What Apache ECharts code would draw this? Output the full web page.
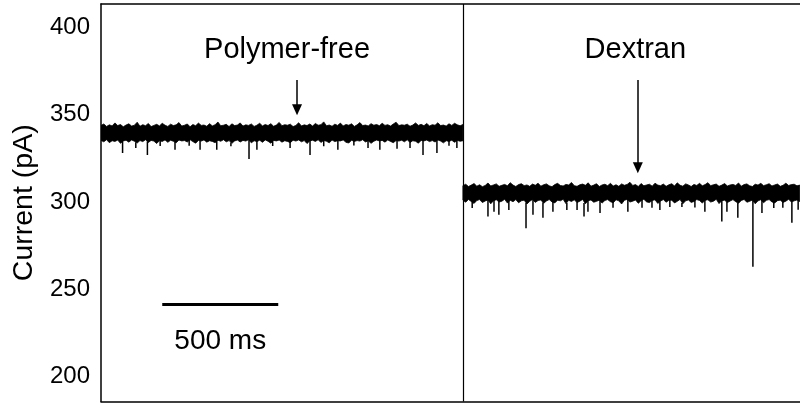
<!DOCTYPE html>
<html>
<head>
<meta charset="utf-8">
<script src="https://cdn.jsdelivr.net/npm/echarts@6/dist/echarts.min.js"></script>
<style>
  html, body { margin: 0; padding: 0; background: #fff; }
  #chart { width: 800px; height: 404px; }
</style>
</head>
<body>
<div id="chart"></div>
<script>
/* Current trace: envelope of the noise band every 12 ms,
   plus the downward blockade spikes as [time ms, current pA] */
let STEP = 12;
let SWITCH_T = 1560;
let X_MAX = 3013;

let yTicks = [200, 250, 300, 350, 400];

let leftUpper = [
  343.8, 344.6, 343.2, 344.1, 343.5, 345.2, 343.7, 344.3, 343.0, 344.0,
  344.7, 343.4, 343.9, 345.6, 343.3, 344.2, 343.6, 344.9, 343.1, 343.8,
  344.4, 343.5, 345.0, 343.9, 343.2, 344.5, 343.7, 344.1, 345.4, 343.4,
  343.9, 344.6, 343.0, 344.3, 343.6, 345.1, 343.8, 344.0, 343.3, 344.8,
  343.5, 344.2, 345.7, 343.6, 343.9, 344.4, 343.1, 344.7, 343.7, 344.0,
  345.2, 343.4, 344.1, 343.8, 344.6, 343.2, 343.9, 345.0, 343.5, 344.3,
  343.7, 344.8, 343.3, 344.0, 345.5, 343.6, 344.2, 343.9, 344.5, 343.1,
  343.8, 345.3, 343.5, 344.1, 343.7, 344.6, 343.4, 344.9, 343.9, 344.2,
  345.8, 343.6, 344.0, 343.3, 344.5, 343.8, 345.1, 343.5, 344.3, 343.9,
  344.7, 343.2, 344.1, 345.4, 343.7, 344.0, 343.5, 344.8, 343.9, 344.3,
  343.6, 345.0, 343.8, 344.2, 343.4, 344.6, 345.6, 343.7, 344.1, 343.9,
  344.5, 343.3, 344.0, 345.2, 343.8, 344.4, 343.6, 344.9, 343.5, 344.2,
  343.9, 345.3, 343.7, 344.0, 343.4, 344.7, 343.8, 345.0, 344.1, 343.6,
  344.3
];
let leftLower = [
  335.2, 334.4, 335.6, 333.9, 335.0, 334.6, 335.4, 333.5, 334.9, 335.3,
  334.2, 335.5, 334.7, 333.7, 335.1, 334.5, 335.6, 334.0, 335.2, 334.8,
  333.4, 335.0, 334.6, 335.5, 334.1, 335.3, 334.7, 333.8, 335.4, 334.9,
  335.1, 334.3, 335.6, 334.5, 333.6, 335.2, 334.8, 335.5, 334.2, 335.0,
  334.6, 333.9, 335.3, 334.7, 335.6, 334.4, 335.1, 333.5, 334.9, 335.4,
  334.3, 335.2, 334.8, 335.6, 333.8, 335.0, 334.5, 335.3, 334.1, 335.5,
  334.7, 333.6, 335.2, 334.9, 335.4, 334.2, 335.0, 334.6, 333.9, 335.3,
  334.8, 335.5, 334.4, 335.1, 333.4, 334.9, 335.3, 334.6, 335.6, 334.0,
  335.2, 334.7, 333.8, 335.4, 334.5, 335.0, 334.9, 335.5, 334.1, 333.7,
  335.3, 334.6, 335.1, 334.8, 335.6, 334.3, 335.0, 333.5, 334.7, 335.4,
  334.9, 335.2, 334.2, 335.5, 334.6, 333.9, 335.1, 334.8, 335.3, 334.4,
  335.6, 334.0, 335.0, 334.7, 333.6, 335.2, 334.9, 335.4, 334.5, 335.1,
  334.3, 335.5, 334.8, 333.8, 335.0, 334.6, 335.3, 334.1, 335.2, 334.7,
  335.0
];
let rightUpper = [
  309.3, 310.1, 308.8, 309.6, 310.5, 309.0, 309.8, 308.7, 309.4, 310.8,
  309.1, 309.7, 310.3, 308.9, 309.5, 310.0, 309.2, 311.0, 309.6, 308.8,
  309.9, 310.4, 309.3, 309.7, 308.9, 310.2, 309.5, 310.7, 309.0, 309.8,
  310.3, 309.2, 308.7, 309.9, 310.6, 309.4, 309.1, 310.0, 309.7, 311.1,
  309.3, 308.9, 309.8, 310.2, 309.5, 310.9, 309.0, 309.6, 310.4, 308.8,
  309.7, 310.1, 309.3, 310.6, 309.1, 309.8, 308.9, 310.3, 309.5, 310.0,
  311.2, 309.4, 309.9, 308.8, 310.5, 309.2, 309.7, 310.1, 309.0, 310.7,
  309.6, 309.3, 310.2, 308.9, 309.8, 310.4, 309.1, 310.9, 309.5, 309.0,
  310.3, 309.7, 308.8, 310.0, 309.4, 310.6, 309.2, 309.9, 311.0, 309.3,
  309.8, 310.2, 308.9, 309.6, 310.5, 309.1, 309.7, 310.0, 309.4, 310.8,
  309.0, 309.9, 310.3, 309.2, 308.8, 310.1, 309.6, 310.6, 309.3, 309.8,
  310.4, 309.1, 309.7, 310.2, 308.9, 309.5, 310.7, 309.4, 309.9, 310.1,
  309.2, 309.6
];
let rightLower = [
  301.0, 299.8, 301.4, 300.2, 299.1, 300.8, 301.3, 299.6, 300.5, 301.1,
  298.9, 300.7, 301.2, 299.9, 300.4, 301.5, 299.3, 300.9, 300.1, 301.3,
  299.5, 300.6, 301.0, 298.8, 300.3, 301.4, 299.7, 300.8, 301.1, 299.2,
  300.5, 301.3, 300.0, 299.4, 301.0, 300.6, 301.5, 299.0, 300.9, 300.2,
  301.2, 299.6, 300.4, 301.4, 298.9, 300.7, 301.1, 299.8, 300.3, 301.0,
  299.3, 300.8, 301.3, 300.1, 299.5, 301.2, 300.6, 298.8, 300.9, 301.4,
  299.9, 300.4, 301.1, 299.2, 300.7, 301.5, 300.0, 299.6, 300.8, 301.2,
  299.1, 300.5, 301.3, 299.8, 300.9, 301.0, 299.4, 300.3, 301.4, 298.9,
  300.6, 301.1, 299.7, 300.2, 301.3, 300.8, 299.3, 300.9, 301.2, 299.9,
  300.4, 301.5, 299.0, 300.7, 301.0, 299.6, 300.5, 301.3, 300.1, 299.2,
  300.8, 301.4, 299.8, 300.3, 301.1, 298.9, 300.6, 301.2, 299.5, 300.9,
  301.3, 300.0, 299.4, 300.7, 301.0, 299.7, 300.4, 301.5, 299.9, 300.6,
  301.1, 300.2
];

let leftSpikes = [
  [93, 328.0], [150, 330.9], [200, 326.9], [255, 332.0], [319, 329.8],
  [380, 332.2], [427, 329.8], [499, 329.8], [560, 331.8], [638, 324.6],
  [672, 329.8], [740, 332.0], [815, 330.9], [901, 326.9], [960, 331.9],
  [1021, 329.8], [1090, 332.3], [1151, 330.9], [1202, 329.8], [1276, 330.4],
  [1332, 330.9], [1388, 326.9], [1448, 328.0], [1500, 332.1], [1534, 330.9]
];
let rightSpikes = [
  [1600, 296.5], [1668, 291.6], [1694, 294.3], [1715, 292.6], [1758, 295.4],
  [1832, 284.9], [1862, 292.6], [1905, 290.9], [1948, 294.3], [2008, 295.4],
  [2052, 295.4], [2082, 291.6], [2099, 294.3], [2151, 293.7], [2207, 296.6],
  [2271, 294.3], [2332, 296.6], [2375, 296.6], [2409, 295.4], [2452, 297.1],
  [2504, 297.1], [2560, 296.8], [2603, 294.3], [2676, 288.7], [2698, 294.3],
  [2745, 290.9], [2810, 262.9], [2849, 293.7], [2900, 296.5], [2939, 296.6],
  [2978, 288.0], [3005, 295.5]
];

/* annotation anchors, in data units */
let polymerArrow = { t: 845, from: 369.8, to: 352.7, text: "Polymer-free" };
let dextranArrow = { t: 2314, from: 369.8, to: 319.5, text: "Dextran" };
let scaleBar = { t0: 264, t1: 764, y: 241.6, text: "500 ms" };

let FONT = "'Liberation Sans', Arial, Helvetica, sans-serif";

let segments = [
  { t0: 0, upper: leftUpper, lower: leftLower },
  { t0: SWITCH_T, upper: rightUpper, lower: rightLower },
];

function baseAt(t) {
  let s = t < SWITCH_T ? segments[0] : segments[1];
  let i = Math.min(s.lower.length - 1, Math.max(0, Math.round((t - s.t0) / STEP)));
  return s.lower[i];
}

function arrowLine(a, pad) {
  return [
    {
      coord: [a.t, a.from],
      symbol: "none",
      label: {
        show: true,
        position: "start",
        formatter: a.text,
        distance: 15,
        padding: pad,
        color: "#000",
        fontSize: 29,
        fontFamily: FONT,
      },
    },
    { coord: [a.t, a.to], symbol: "triangle", symbolSize: [10, 11] },
  ];
}

let axisBase = {
  type: "value", min: 0, max: X_MAX,
  axisLine: { show: true, lineStyle: { color: "#000", width: 1.5 } },
  axisTick: { show: false }, axisLabel: { show: false }, splitLine: { show: false },
};

let chart = echarts.init(document.getElementById("chart"), null, { renderer: "canvas" });

chart.setOption({
  animation: false,
  backgroundColor: "#fff",
  grid: { left: 101, right: 0, top: 4, bottom: 2.5 },
  xAxis: [
    Object.assign({ position: "bottom" }, axisBase),
    Object.assign({ position: "top" }, axisBase),
  ],
  yAxis: {
    type: "value", min: 185.7, max: 413.3,
    name: "Current (pA)",
    nameLocation: "middle",
    nameGap: 44,
    nameTextStyle: { color: "#000", fontSize: 28.5, fontFamily: FONT },
    axisLine: { show: true, lineStyle: { color: "#000", width: 1.5 } },
    axisTick: { show: false }, splitLine: { show: false },
    axisLabel: {
      customValues: yTicks,
      color: "#000", fontSize: 24, fontFamily: FONT, margin: 11,
    },
  },
  series: [
    {
      name: "band",
      type: "custom",
      silent: true,
      clip: true,
      data: segments.map(function (s, k) {
        return [s.t0, s.t0 + (s.upper.length - 1) * STEP, k];
      }),
      encode: { x: [0, 1] },
      renderItem: function (params, api) {
        let s = segments[api.value(2)];
        let pts = [];
        s.upper.forEach(function (v, i) { pts.push(api.coord([s.t0 + i * STEP, v])); });
        for (let i = s.lower.length - 1; i >= 0; i--) {
          pts.push(api.coord([s.t0 + i * STEP, s.lower[i]]));
        }
        return {
          type: "polygon",
          shape: { points: pts },
          style: { fill: "#000", stroke: "#000", lineWidth: 0.8 },
        };
      },
      z: 3,
    },
    {
      name: "spikes",
      type: "custom",
      silent: true,
      clip: true,
      data: leftSpikes.concat(rightSpikes),
      renderItem: function (params, api) {
        let t = api.value(0);
        let p0 = api.coord([t, baseAt(t) + 0.5]);
        let p1 = api.coord([t, api.value(1)]);
        return {
          type: "line",
          shape: { x1: p0[0], y1: p0[1], x2: p1[0], y2: p1[1] },
          style: { stroke: "#000", lineWidth: 1.5 },
        };
      },
      z: 4,
    },
    {
      name: "annotations",
      type: "line",
      data: [],
      silent: true,
      markLine: {
        silent: true,
        animation: false,
        symbol: "none",
        lineStyle: { color: "#000", width: 1.5, type: "solid" },
        label: { show: false },
        data: [
          { xAxis: SWITCH_T, lineStyle: { width: 1.2 } },
          arrowLine(polymerArrow, [0, 20, 0, 0]),
          arrowLine(dextranArrow, [0, 5, 0, 0]),
          [
            {
              coord: [scaleBar.t0, scaleBar.y],
              lineStyle: { width: 3 },
              label: {
                show: true,
                position: "insideMiddleBottom",
                formatter: scaleBar.text,
                distance: 23,
                color: "#000",
                fontSize: 28,
                fontFamily: FONT,
              },
            },
            { coord: [scaleBar.t1, scaleBar.y] },
          ],
        ],
      },
    },
  ],
});
</script>
</body>
</html>
